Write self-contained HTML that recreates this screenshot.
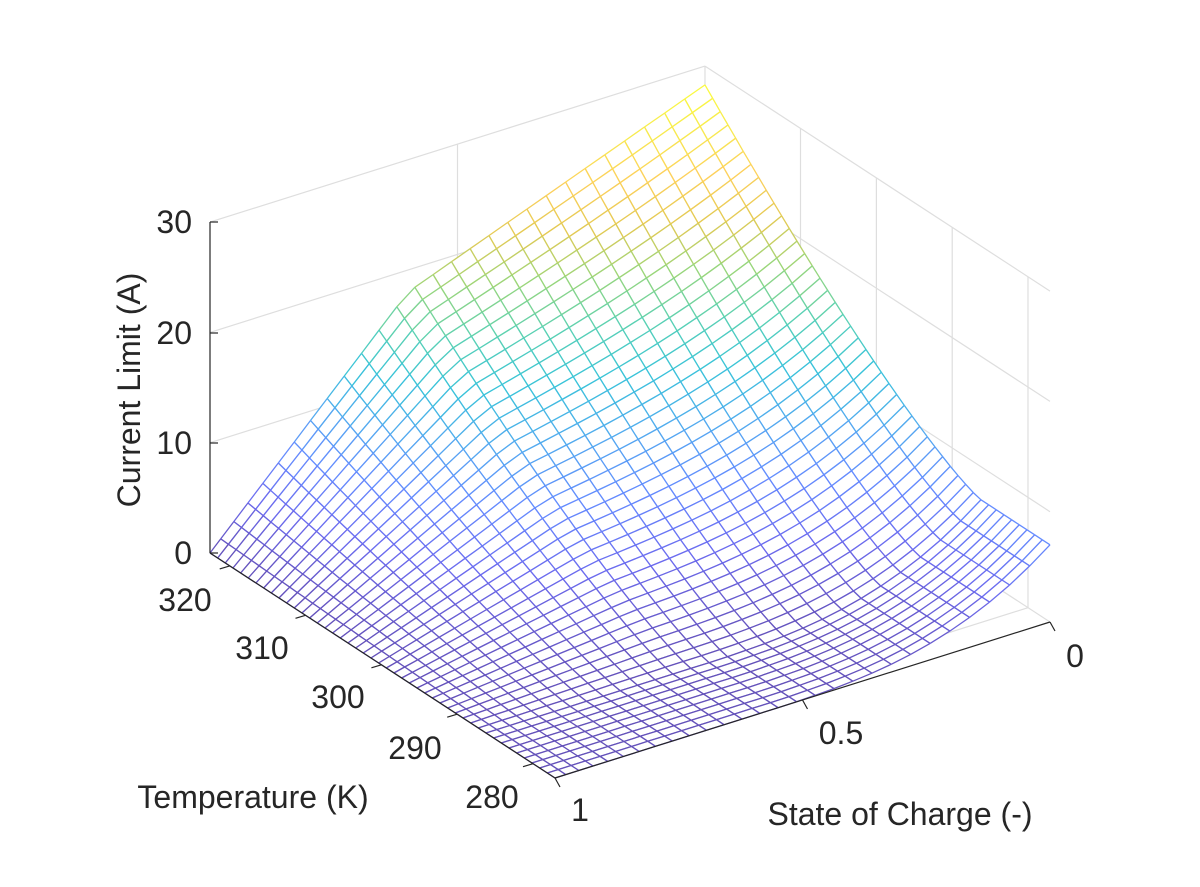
<!DOCTYPE html>
<html><head><meta charset="utf-8">
<style>
html,body{margin:0;padding:0;background:#fff;}
svg text{font-family:"Liberation Sans",Arial,sans-serif;fill:#262626;font-size:32px;}
</style></head>
<body>
<svg id="s" width="1200" height="882" xmlns="http://www.w3.org/2000/svg"></svg>
<script>
const S=document.getElementById('s');
const F=[555,778], DS=[495,-156], DT=[-345,-225], KZ=11.03;
function P(s,t,z){return [F[0]+DS[0]*s+DT[0]*t, F[1]+DS[1]*s+DT[1]*t-KZ*z];}
let out=[];
function line(a,b,col,w){out.push(`<line x1="${a[0].toFixed(1)}" y1="${a[1].toFixed(1)}" x2="${b[0].toFixed(1)}" y2="${b[1].toFixed(1)}" stroke="${col}" stroke-width="${w}"/>`);}
const G='#dedede';
const tv=T=>(T-277.1)/45.5;
for(const z of [10,20,30]) line(P(0,1,z),P(1,1,z),G,1.2);
line(P(0.5,1,0),P(0.5,1,30),G,1.2);
line(P(1,1,0),P(1,1,30),G,1.2);
for(const z of [10,20,30]) line(P(1,1,z),P(1,0,z),G,1.2);
for(const T of [310,300,290,280]) line(P(1,tv(T),0),P(1,tv(T),30),G,1.2);
for(const T of [320,310,300,290,280]) line(P(0,tv(T),0),P(1,tv(T),0),G,1.2);
line(P(0.5,0,0),P(0.5,1,0),G,1.2);
line(P(1,0,0),P(1,1,0),G,1.2);
function zA(s){return s<0.4?45*s:18+10.3*(s-0.4)/0.6;}
function zB(s){return s<0.4?0:7*Math.pow((s-0.4)/0.6,3);}
function H(t){return t<0.2?0:Math.pow((t-0.2)/0.8,1.3);}
function Z(s,t){const h=H(t);return zA(s)*h+zB(s)*(1-h);}
const par=[[0,.2422,.1504,.6603],[.1,.2803,.2782,.9221],[.2,.2440,.4358,.9988],[.3,.1540,.5902,.9218],[.4,.0297,.7082,.8163],[.5,.1938,.7758,.6251],[.6,.5044,.7993,.3480],[.7,.8634,.7406,.1596],[.8,.9892,.7720,.2000],[.9,.9626,.8989,.1409],[1,.9763,.9831,.0538]];
function col(v){v=Math.max(0,Math.min(1,v));v=Math.pow(v,1.15);let r=[.9763,.9831,.0538];for(let i=1;i<par.length;i++){if(v<=par[i][0]){const a=par[i-1],b=par[i],f=(v-a[0])/(b[0]-a[0]);r=[1,2,3].map(k=>a[k]+(b[k]-a[k])*f);break;}}
 const m=0.2;return `rgb(${r.map(c=>Math.round(c*255*(1-m)+255*m)).join(',')})`;}
const NS=28,NT=45,ZM=28.3;
const ss=[],ts=[];
for(let i=0;i<=NS;i++)ss.push(Math.pow(i/NS,1.15));
for(let j=0;j<=NT;j++)ts.push(j/NT);
const V=ss.map(s=>ts.map(t=>{const z=Z(s,t);return {p:P(s,t,z),z};}));
const quads=[];
for(let i=0;i<NS;i++)for(let j=0;j<NT;j++)quads.push([i,j,ss[i]+ss[i+1]+ts[j]+ts[j+1]]);
quads.sort((a,b)=>b[2]-a[2]);
for(const [i,j] of quads){
 const a=V[i][j],b=V[i+1][j],c=V[i+1][j+1],d=V[i][j+1];
 out.push(`<polygon points="${[a,b,c,d].map(v=>v.p[0].toFixed(1)+','+v.p[1].toFixed(1)).join(' ')}" fill="#fff" stroke="none"/>`);
 for(const [u,w] of [[a,b],[b,c],[c,d],[d,a]]) line(u.p,w.p,col((u.z+w.z)/2/ZM),1.3);
}
const K='#262626';
line([210,553],[210,222],K,1.2);
for(const y of [553,443,333,222]) line([210,y],[218,y],K,1.2);
line(P(0,1,0),P(0,0,0),K,1.2);
line(P(0,0,0),P(1,0,0),K,1.2);
for(const T of [320,310,300,290,280]){const a=P(0,tv(T),0);line(a,[a[0]-10,a[1]+3],K,1.2);}
for(const s of [0,0.5,1]){const a=P(s,0,0);line(a,[a[0]+5,a[1]+9],K,1.2);}
S.innerHTML=out.join('');
</script>
<svg width="1200" height="882" style="position:absolute;left:0;top:0" xmlns="http://www.w3.org/2000/svg">
<text x="192" y="233" text-anchor="end">30</text>
<text x="192" y="344" text-anchor="end">20</text>
<text x="192" y="454" text-anchor="end">10</text>
<text x="192" y="564" text-anchor="end">0</text>
<text transform="translate(140,390) rotate(-90)" text-anchor="middle">Current Limit (A)</text>
<text x="185" y="611" text-anchor="middle">320</text>
<text x="262" y="659" text-anchor="middle">310</text>
<text x="338" y="708" text-anchor="middle">300</text>
<text x="415" y="759" text-anchor="middle">290</text>
<text x="492" y="808" text-anchor="middle">280</text>
<text x="253" y="808" text-anchor="middle">Temperature (K)</text>
<text x="580" y="821" text-anchor="middle">1</text>
<text x="841" y="744" text-anchor="middle">0.5</text>
<text x="1075" y="667" text-anchor="middle">0</text>
<text x="900" y="825" text-anchor="middle">State of Charge (-)</text>
</svg>
</body></html>
